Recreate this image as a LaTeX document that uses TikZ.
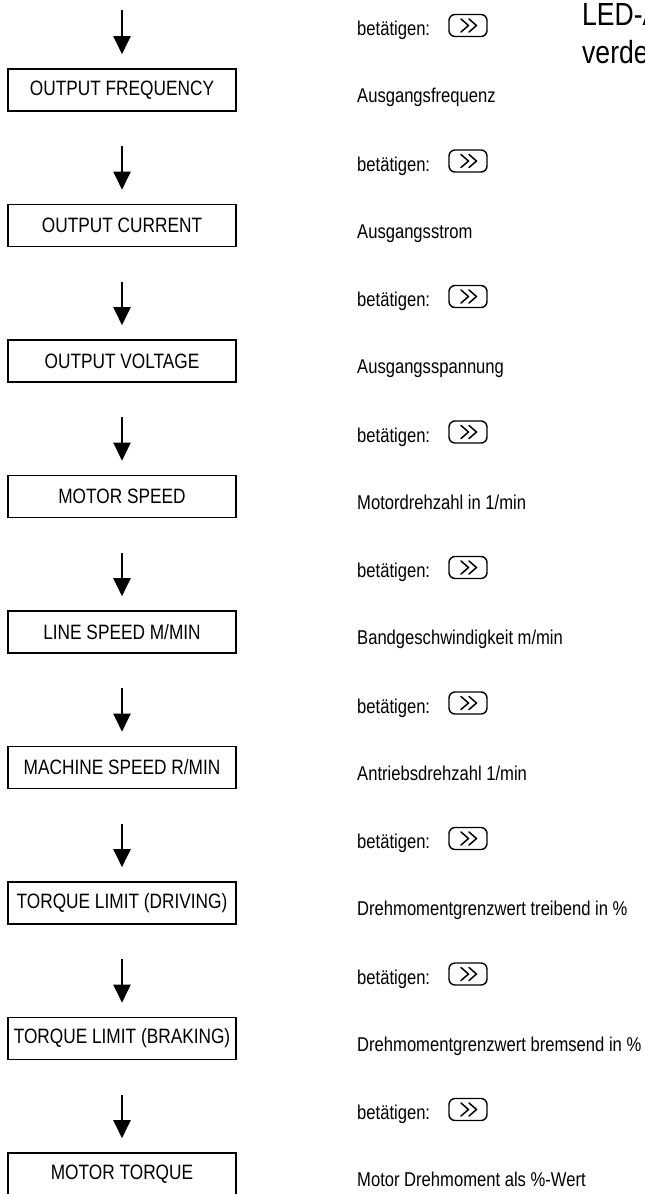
\documentclass[tikz,border=0pt]{standalone}
\usepackage{fontspec}
\setmainfont[FakeStretch=0.83]{Liberation Sans}
\usetikzlibrary{arrows.meta}
\begin{document}
\begin{tikzpicture}[x=1pt,y=-1pt,
  stepbox/.style={draw,line width=1.6pt,minimum width=228pt,minimum height=42pt,inner sep=0pt,font=\fontsize{20.8}{25}\selectfont},
  desc/.style={anchor=base west,inner sep=0pt,font=\fontsize{20}{24}\selectfont},
  btn/.style={draw,line width=1.4pt,rounded corners=6pt,minimum width=38pt,minimum height=22pt,inner sep=0pt},
  flow/.style={line width=2pt,-{Triangle[length=18pt,width=17pt]}},
  chev/.style={line width=1.5pt,line cap=round,line join=round},
  big/.style={anchor=base west,inner sep=0pt,font=\fontsize{32}{38}\selectfont}]
\useasboundingbox (0,0) rectangle (645,1194);
\fill[white] (0,0) rectangle (645,1194);
\node[big] (led1) at (582,25) {LED-A};
\node[big] (led2) at (582,63) {verde};
\foreach \i/\lab/\txt in {
  0/OUTPUT FREQUENCY/Ausgangsfrequenz,
  1/OUTPUT CURRENT/Ausgangsstrom,
  2/OUTPUT VOLTAGE/Ausgangsspannung,
  3/MOTOR SPEED/Motordrehzahl in 1\slash min,
  4/LINE SPEED M\slash MIN/Bandgeschwindigkeit m\slash min,
  5/MACHINE SPEED R\slash MIN/Antriebsdrehzahl 1\slash min,
  6/TORQUE LIMIT (DRIVING)/Drehmomentgrenzwert treibend in \%,
  7/TORQUE LIMIT (BRAKING)/Drehmomentgrenzwert bremsend in \%,
  8/MOTOR TORQUE/Motor Drehmoment als \%-Wert}{
  \pgfmathsetmacro{\yc}{90+135.5*\i}
  \node[stepbox] (b\i) at (122,\yc) {\lab};
  \node[desc] (d\i) at (357,\yc+12.5) {\txt};
  \node[desc] (p\i) at (357,\yc-54.5) {betätigen:};
  \node[btn] (k\i) at (468,\yc-64.5) {};
  \draw[chev] ([xshift=-7pt,yshift=-6.5pt]k\i.center) -- ([xshift=0.5pt]k\i.center) -- ([xshift=-7pt,yshift=6.5pt]k\i.center);
  \draw[chev] ([xshift=1pt,yshift=-6.5pt]k\i.center) -- ([xshift=8.5pt]k\i.center) -- ([xshift=1pt,yshift=6.5pt]k\i.center);
}
\coordinate (start) at (122,10);
\draw[flow,shorten >=14pt] (start) -- (b0.north);
\foreach \i [remember=\i as \j (initially 0)] in {1,...,8}{
  \draw[flow,shorten <=34.5pt,shorten >=14pt] (b\j.south) -- (b\i.north);
}
\end{tikzpicture}
\end{document}
